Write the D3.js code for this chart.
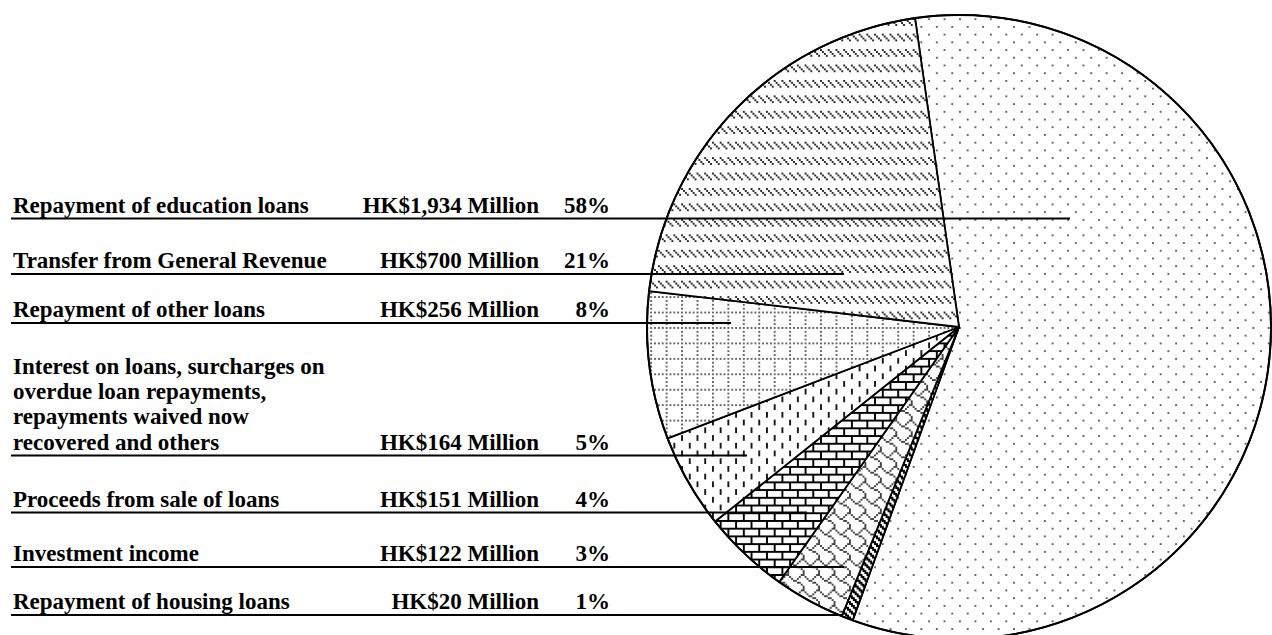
<!DOCTYPE html>
<html><head><meta charset="utf-8">
<script src="https://cdn.jsdelivr.net/npm/d3@7"></script>
<style>html,body{margin:0;padding:0;background:#fff;} svg{display:block;}</style>
</head><body><svg id="chart" width="1272" height="635"></svg>
<script>
// ---------- data ----------
const categories = [
  "Repayment of education loans",
  "Transfer from General Revenue",
  "Repayment of other loans",
  "Interest on loans, surcharges on\noverdue loan repayments,\nrepayments waived now\nrecovered and others",
  "Proceeds from sale of loans",
  "Investment income",
  "Repayment of housing loans"
];
const amounts = [1934, 700, 256, 164, 151, 122, 20];          // HK$ Million
const percentLabels = ["58%", "21%", "8%", "5%", "4%", "3%", "1%"];
const pieOrder = [0, 6, 5, 4, 3, 2, 1];                        // clockwise order of slices

// ---------- layout / style ----------
const W = 1272, H = 635;
const cx = 959, cy = 327, R = 312;
const startDeg = -8.1;
const rowLineY = [218.5, 274, 323, 455.5, 512.5, 567, 615];
const leaderEndX = [1070, 844, 731, 747, 807, 844, 843];
const lineStartX = 11, textX = 13, amountRightX = 539, pctRightX = 610;
const fontSize = 23, lineGap = 25.3, baselineOffset = 6;
const S = 1.93; // pattern pixel scale

const patternDefs = [
  {id: "p0", rows: [0x80,0,0,0,0x08,0,0,0], k: [0.8,0.8], color: "#111"},            // dots
  {id: "p1", rows: [0x88,0x44,0x22,0x11,0,0,0,0], k: [0.95,0.95], color: "#111"},    // dashed downward diagonal
  {id: "p2", rows: [0xAA,0,0x80,0,0x80,0,0x80,0], k: [0.8,0.8], color: "#111"},      // dotted grid
  {id: "p3", rows: [0x80,0x80,0x80,0,0x08,0x08,0x08,0], k: [0.9,1], color: "#000"},  // dashed vertical
  {id: "p4", rows: [0xFF,0x80,0x80,0x80,0xFF,0x08,0x08,0x08], k: [1,1], color: "#000"}, // horizontal brick
  {id: "p5", rows: [0x03,0x84,0x48,0x30,0x0C,0x02,0x01,0x01], k: [0.85,0.85], color: "#000"}, // shingle
  {id: "p6", rows: [0xCC,0x66,0x33,0x99,0xCC,0x66,0x33,0x99], k: [1,1], color: "#000"}  // dark downward diagonal
];

const svg = d3.select("#chart");
svg.append("rect").attr("width", W).attr("height", H).attr("fill", "#fff");

const defs = svg.append("defs");
patternDefs.forEach(p => {
  const pat = defs.append("pattern")
    .attr("id", p.id).attr("patternUnits", "userSpaceOnUse")
    .attr("width", 8 * S).attr("height", 8 * S);
  pat.append("rect").attr("width", 8 * S).attr("height", 8 * S).attr("fill", "#fff");
  const cells = [];
  p.rows.forEach((row, r) => {
    for (let c = 0; c < 8; c++) if (row & (0x80 >> c)) cells.push([c, r]);
  });
  const w = S * p.k[0], h = S * p.k[1];
  pat.selectAll("rect.px").data(cells).join("rect").attr("class", "px")
    .attr("x", d => d[0] * S + (S - w) / 2)
    .attr("y", d => d[1] * S + (S - h) / 2)
    .attr("width", w).attr("height", h)
    .attr("fill", p.color);
});

// ---------- pie ----------
const pieData = pieOrder.map(i => ({index: i, value: amounts[i]}));
const pie = d3.pie().sort(null).value(d => d.value)
  .startAngle(startDeg * Math.PI / 180)
  .endAngle(startDeg * Math.PI / 180 + 2 * Math.PI);
const arc = d3.arc().innerRadius(0).outerRadius(R);

const g = svg.append("g").attr("transform", `translate(${cx},${cy})`);
g.selectAll("path.slice").data(pie(pieData)).join("path")
  .attr("class", "slice")
  .attr("d", arc)
  .attr("fill", d => `url(#${patternDefs[d.data.index].id})`)
  .attr("stroke", "#000").attr("stroke-width", 1.8).attr("stroke-linejoin", "round");
g.append("circle").attr("r", R).attr("fill", "none").attr("stroke", "#000").attr("stroke-width", 2);

// ---------- leader lines ----------
const rows = categories.map((c, i) => ({i, name: c, amount: amounts[i], pct: percentLabels[i]}));
svg.selectAll("line.leader").data(rows).join("line")
  .attr("class", "leader")
  .attr("x1", lineStartX).attr("x2", d => leaderEndX[d.i])
  .attr("y1", d => rowLineY[d.i]).attr("y2", d => rowLineY[d.i])
  .attr("stroke", "#000").attr("stroke-width", 2);

// ---------- labels ----------
const fmt = d3.format(",");
const txt = svg.append("g")
  .attr("font-family", "'Liberation Serif','Times New Roman',serif")
  .attr("font-weight", "bold").attr("font-size", fontSize).attr("fill", "#000");

rows.forEach(d => {
  const lines = d.name.split("\n");
  const base = rowLineY[d.i] - baselineOffset;
  lines.forEach((ln, j) => {
    txt.append("text").attr("x", textX)
      .attr("y", base - (lines.length - 1 - j) * lineGap)
      .text(ln);
  });
  txt.append("text").attr("x", amountRightX).attr("y", base)
    .attr("text-anchor", "end").text(`HK$${fmt(d.amount)} Million`);
  txt.append("text").attr("x", pctRightX).attr("y", base)
    .attr("text-anchor", "end").text(d.pct);
});
</script>
</body></html>
